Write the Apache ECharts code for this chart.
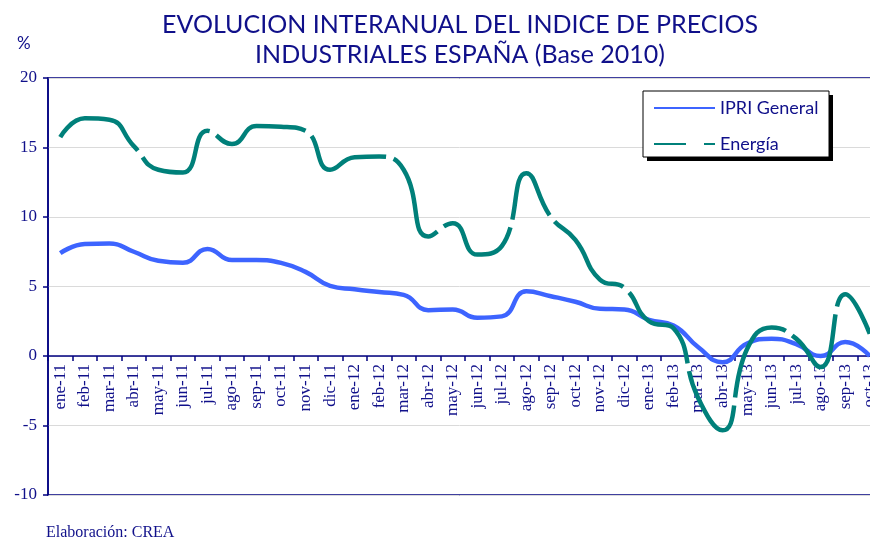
<!DOCTYPE html>
<html>
<head>
<meta charset="utf-8">
<script src="https://cdn.jsdelivr.net/npm/echarts@6/dist/echarts.min.js"></script>
<style>
  html, body { margin: 0; padding: 0; background: #fff; }
  #main { width: 870px; height: 543px; }
</style>
</head>
<body>
<div id="main"></div>
<script>
// meses ene-11 .. oct-13
var categories = [
  'ene-11', 'feb-11', 'mar-11', 'abr-11', 'may-11', 'jun-11', 'jul-11', 'ago-11', 'sep-11', 'oct-11', 'nov-11', 'dic-11',
  'ene-12', 'feb-12', 'mar-12', 'abr-12', 'may-12', 'jun-12', 'jul-12', 'ago-12', 'sep-12', 'oct-12', 'nov-12', 'dic-12',
  'ene-13', 'feb-13', 'mar-13', 'abr-13', 'may-13', 'jun-13', 'jul-13', 'ago-13', 'sep-13', 'oct-13'
];

var ipriGeneral = [
  7.4, 8.05, 8.1, 7.5, 6.85, 6.7, 7.7, 6.9, 6.9, 6.7, 6.05, 5.05,
  4.8, 4.6, 4.4, 3.3, 3.35, 2.75, 2.85, 4.65, 4.3, 3.9, 3.4, 3.35,
  2.6, 2.2, 0.65, -0.45, 0.9, 1.25, 0.85, 0.0, 1.0, 0.0
];

var energia = [
  15.75, 17.1, 17.0, 15.1, 13.4, 13.2, 16.2, 15.25, 16.55, 16.5, 16.2, 13.4,
  14.3, 14.35, 13.4, 8.6, 9.55, 7.3, 7.9, 13.15, 10.0, 8.35, 5.5, 4.9,
  2.5, 2.0, -3.0, -5.35, 0.5, 2.05, 1.25, -0.8, 4.45, 1.6
];

var yMin = -10, yMax = 20, yStep = 5;

var navy = '#10108a';
var gridTop = 78, gridHeight = 417;
// eje X sobre el 0: desplazado desde el borde inferior
var zeroOffset = -gridHeight * (0 - yMin) / (yMax - yMin);

var chart = echarts.init(document.getElementById('main'));

var option = {
  animation: false,
  backgroundColor: '#fff',
  title: [{
    text: 'EVOLUCION INTERANUAL DEL INDICE DE PRECIOS\nINDUSTRIALES ESPAÑA (Base 2010)',
    left: 455,
    top: 5,
    textAlign: 'center',
    textStyle: { fontFamily: 'Lato', fontWeight: 'normal', fontSize: 25, lineHeight: 30, color: navy }
  }, {
    text: '%',
    left: 12,
    top: 30,
    textStyle: { fontFamily: 'Lato', fontWeight: 'normal', fontSize: 17, color: navy }
  }, {
    text: 'Elaboración: CREA',
    left: 41,
    top: 520,
    textStyle: { fontFamily: 'Liberation Serif', fontWeight: 'normal', fontSize: 16, color: navy }
  }],
  graphic: [{
    // sombra de la leyenda
    type: 'rect',
    z: 5,
    shape: { x: 647, y: 95, width: 186, height: 66 },
    style: { fill: '#000' }
  }, {
    type: 'rect',
    z: 5,
    shape: { x: 643, y: 91, width: 186, height: 66 },
    style: { fill: '#fff', stroke: '#000', lineWidth: 1 }
  }],
  legend: {
    z: 6,
    orient: 'vertical',
    left: 643,
    top: 91,
    padding: [8, 10, 8, 10],
    itemWidth: 61,
    itemHeight: 14,
    itemGap: 18,
    itemStyle: { opacity: 0, borderWidth: 0 },
    textStyle: { fontFamily: 'Lato', fontSize: 18, color: navy },
    data: [
      { name: 'IPRI General' },
      { name: 'Energía', lineStyle: { type: [32, 18] } }
    ]
  },
  grid: {
    left: 48, top: gridTop, width: 834, height: gridHeight,
    outerBoundsMode: 'none',
    show: true, borderColor: '#000080', borderWidth: 1.5
  },
  xAxis: {
    type: 'category',
    data: categories,
    boundaryGap: true,
    offset: zeroOffset,
    axisLine: { onZero: false, lineStyle: { color: '#000080', width: 1.5 } },
    axisTick: { show: true, length: 5, lineStyle: { color: '#000080', width: 1.5 } },
    axisLabel: {
      interval: 0, rotate: 90, margin: 8,
      fontFamily: 'Liberation Serif', fontSize: 17, color: navy
    },
    splitLine: { show: false }
  },
  yAxis: {
    type: 'value',
    min: yMin, max: yMax, interval: yStep,
    axisLine: { show: true, lineStyle: { color: '#000080', width: 1.5 } },
    axisTick: { show: true, length: 5, lineStyle: { color: '#000080', width: 1.5 } },
    axisLabel: { margin: 11, fontFamily: 'Liberation Serif', fontSize: 17, color: navy },
    splitLine: { lineStyle: { color: '#dadada', width: 1 } }
  },
  series: [{
    name: 'IPRI General',
    type: 'line',
    data: ipriGeneral,
    smooth: 0.5,
    symbol: 'none',
    color: '#3d64ff',
    lineStyle: { width: 4.5, color: '#3d64ff' }
  }, {
    name: 'Energía',
    type: 'line',
    data: energia,
    smooth: 0.5,
    symbol: 'none',
    color: '#00807a',
    lineStyle: { width: 4.5, color: '#00807a', type: [100, 8] }
  }]
};

chart.setOption(option);
</script>
</body>
</html>
